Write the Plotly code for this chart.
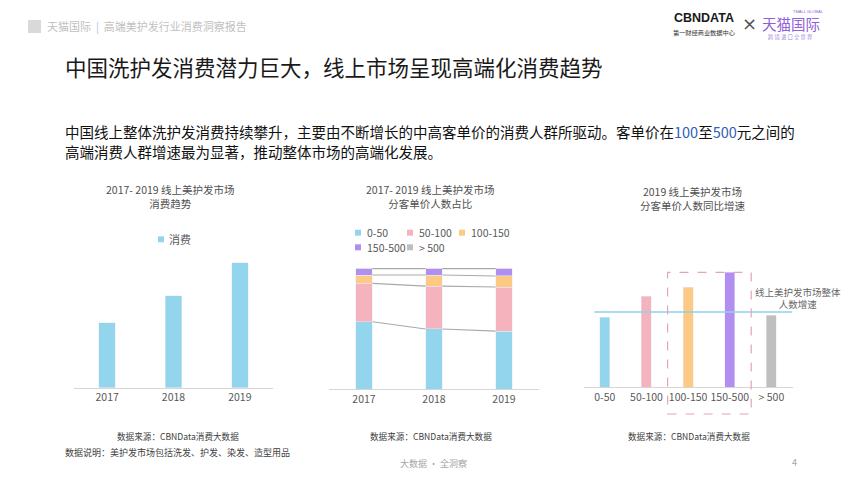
import numpy as np
import plotly.graph_objects as go

# page body has an 8px margin, so the figure is drawn from (8, 8)
OFF = 8
W, H = 865 - OFF, 484 - OFF

# ---------------- data ----------------
years = ["2017", "2018", "2019"]
consumption = [65, 92, 125]          # relative consumption level

price_bands = ["0-50", "50-100", "100-150", "150-500", "> 500"]
share_0_50 = [55.6, 49.6, 47.9]
share_50_100 = [31.7, 35.5, 36.4]
share_100_150 = [6.9, 9.1, 9.1]
share_150_500 = [5.3, 5.3, 6.1]
share_500_plus = [0.5, 0.5, 0.5]

growth_2019 = [70, 91, 100, 114.7, 72]   # relative YoY growth by price band
overall_growth = 75                      # overall market growth line

chart1_title = ["2017- 2019 线上美护发市场", "消费趋势"]
chart2_title = ["2017- 2019 线上美护发市场", "分客单价人数占比"]
chart3_title = ["2019 线上美护发市场", "分客单价人数同比增速"]
overall_label = ["线上美护发市场整体", "人数增速"]
series1_name = "消费"

# ---------------- styles ----------------
FONT = "Noto Sans CJK SC, Noto Sans, sans-serif"
band_colors = ["#94d5ee", "#f5b3bd", "#fdc983", "#b18ef0", "#bfbfbf"]
axis_color = "#d6d6d6"
tick_color = "#595959"


def px_x(p):
    return (p - OFF) / W


def px_y(p):
    return 1 - (p - OFF) / H


fig = go.Figure()

# chart 1
fig.add_trace(go.Bar(x=years, y=consumption, marker_color=band_colors[0], width=0.25,
                     name=series1_name, xaxis="x", yaxis="y"))

# chart 2 stacked bars
shares = [share_0_50, share_50_100, share_100_150, share_150_500, share_500_plus]
bar_w2 = 0.24
xpos = list(range(len(years)))
for name, vals, col in zip(price_bands, shares, band_colors):
    fig.add_trace(go.Bar(x=xpos, y=vals, marker_color=col, width=bar_w2, name=name,
                         xaxis="x2", yaxis="y2"))

# series connector lines between stacked bars
cum = np.cumsum(np.array(shares), axis=0)
lx, ly = [], []
for k in range(cum.shape[0]):
    for i in range(len(years) - 1):
        lx += [i + bar_w2 / 2, i + 1 - bar_w2 / 2, None]
        ly += [cum[k][i], cum[k][i + 1], None]
fig.add_trace(go.Scatter(x=lx, y=ly, mode="lines", line=dict(color="#a9a9a9", width=1.2),
                         xaxis="x2", yaxis="y2", hoverinfo="skip"))

# chart 3
fig.add_trace(go.Bar(x=price_bands, y=growth_2019, marker_color=band_colors, width=0.24,
                     xaxis="x3", yaxis="y3"))

ymax1, ymax2, ymax3 = 140, 100, 130
base3, top3 = 387, 257

xcommon = dict(showline=True, linecolor=axis_color, linewidth=1.2, ticks="", showgrid=False,
               zeroline=False, tickfont=dict(family=FONT, size=10.5, color=tick_color),
               fixedrange=True)
ycommon = dict(visible=False, showgrid=False, zeroline=False, fixedrange=True)

fig.update_layout(
    width=W, height=H, autosize=False,
    margin=dict(l=0, r=0, t=0, b=0),
    paper_bgcolor="white", plot_bgcolor="white",
    showlegend=False, barmode="stack",
    xaxis=dict(domain=[px_x(74), px_x(273)], anchor="y", type="category", **xcommon),
    yaxis=dict(domain=[px_y(387.7), px_y(247.7)], anchor="x", range=[0, ymax1], **ycommon),
    xaxis2=dict(domain=[px_x(329), px_x(539)], anchor="y2", range=[-0.5, len(years) - 0.5],
                tickmode="array", tickvals=xpos, ticktext=years, **xcommon),
    yaxis2=dict(domain=[px_y(389), px_y(268)], anchor="x2", range=[0, ymax2], **ycommon),
    xaxis3=dict(domain=[px_x(584), px_x(793)], anchor="y3", type="category", **xcommon),
    yaxis3=dict(domain=[px_y(base3), px_y(top3)], anchor="x3", range=[0, ymax3], **ycommon),
)

shapes = []
# overall growth line
shapes.append(dict(type="line", xref="x3", yref="y3", x0=-0.25, x1=len(price_bands) - 0.5,
                   y0=overall_growth, y1=overall_growth,
                   line=dict(color="#8fd0ea", width=1.5)))
# dashed highlight around the high-end bands
rect_bottom_px = 414
shapes.append(dict(type="rect", xref="x3 domain", yref="y3 domain",
                   x0=2 / len(price_bands), x1=4 / len(price_bands),
                   y0=(base3 - rect_bottom_px) / (base3 - top3),
                   y1=max(growth_2019) / ymax3,
                   line=dict(color="#e9a3b6", width=1.2, dash="dash"),
                   fillcolor="rgba(0,0,0,0)"))
# header square
shapes.append(dict(type="rect", xref="paper", yref="paper", x0=px_x(28), x1=px_x(41),
                   y0=px_y(33), y1=px_y(20), line=dict(width=0), fillcolor="#d9d9d9"))
# right edge line
shapes.append(dict(type="line", xref="paper", yref="paper", x0=px_x(864.2), x1=px_x(864.2),
                   y0=0, y1=1, line=dict(color="#bdbdbd", width=1.5)))

ann = []


def text(x, y, s, size, color="#333333", anchor="center", family=FONT, **kw):
    ann.append(dict(x=px_x(x), y=px_y(y), xref="paper", yref="paper", text=s, showarrow=False,
                    xanchor=anchor, yanchor="middle", font=dict(family=family, size=size, color=color),
                    **kw))


def legend_key(x, y, color):
    shapes.append(dict(type="rect", xref="paper", yref="paper", x0=px_x(x), x1=px_x(x + 6),
                       y0=px_y(y + 3), y1=px_y(y - 3), line=dict(width=0), fillcolor=color))


# legend chart 1
legend_key(158, 239.3, band_colors[0])
text(167, 239.3, series1_name, 11, tick_color, "left")

# legend chart 2
legend_pos = [(355, 232.7), (407, 232.7), (459, 232.7), (355, 247.3), (407, 247.3)]
for (lxp, lyp), name, col in zip(legend_pos, price_bands, band_colors):
    legend_key(lxp, lyp, col)
    text(lxp + 9.5, lyp, name, 10.5, tick_color, "left")

# header
text(45, 26.5, '天猫国际&nbsp;&nbsp;<span style="color:#a9c8e2">|</span>&nbsp;&nbsp;高端美护发行业消费洞察报告',
     11, "#bfbfbf", "left")

# logo
text(704, 18, "<b>CBNDATA</b>", 12.5, "#1a1a1a", family="Liberation Sans, Arial, sans-serif")
text(704, 32.5, "第一财经商业数据中心", 6.2, "#333333")
text(749, 23, "×", 18, "#555555", family="DejaVu Sans, sans-serif")
text(790.5, 23.5, "天猫国际", 14.5, "#9060d8")
text(808, 12, "TMALL GLOBAL", 4, "#9060d8", family="Liberation Sans, sans-serif")
text(790, 37, "跨 境 进 口 全 世 界", 5.3, "#a585e3")

# title + lead text
text(63, 66, "中国洗护发消费潜力巨大，线上市场呈现高端化消费趋势", 21.5, "#1a1a1a", "left")
blue = "#2f5fb8"
text(63, 131.5, "中国线上整体洗护发消费持续攀升，主要由不断增长的中高客单价的消费人群所驱动。客单价在"
     f'<span style="color:{blue}">100</span>至<span style="color:{blue}">500</span>元之间的',
     14.5, "#111111", "left")
text(63, 151.5, "高端消费人群增速最为显著，推动整体市场的高端化发展。", 14.5, "#111111", "left")

# chart titles
for cx, lines, y1 in [(170, chart1_title, 190), (430, chart2_title, 190), (693, chart3_title, 191.5)]:
    text(cx, y1 + 6.75, "<br>".join(lines), 10.5, "#505050")

# overall label
text(798, 297.8, "<br>".join(overall_label), 9.5, "#666666")

# footer
src = "数据来源：CBNData消费大数据"
text(177.5, 436, src, 8.6, "#404040")
text(431, 436, src, 8.6, "#404040")
text(689, 436, src, 8.6, "#404040")
text(63, 452, "数据说明：美护发市场包括洗发、护发、染发、造型用品", 9, "#404040", "left")
text(433, 463, "大数据 · 全洞察", 9, "#a6a6a6")
text(794, 462, "4", 9, "#a6a6a6")

fig.update_layout(annotations=ann, shapes=shapes)
fig.write_html("out.html")
